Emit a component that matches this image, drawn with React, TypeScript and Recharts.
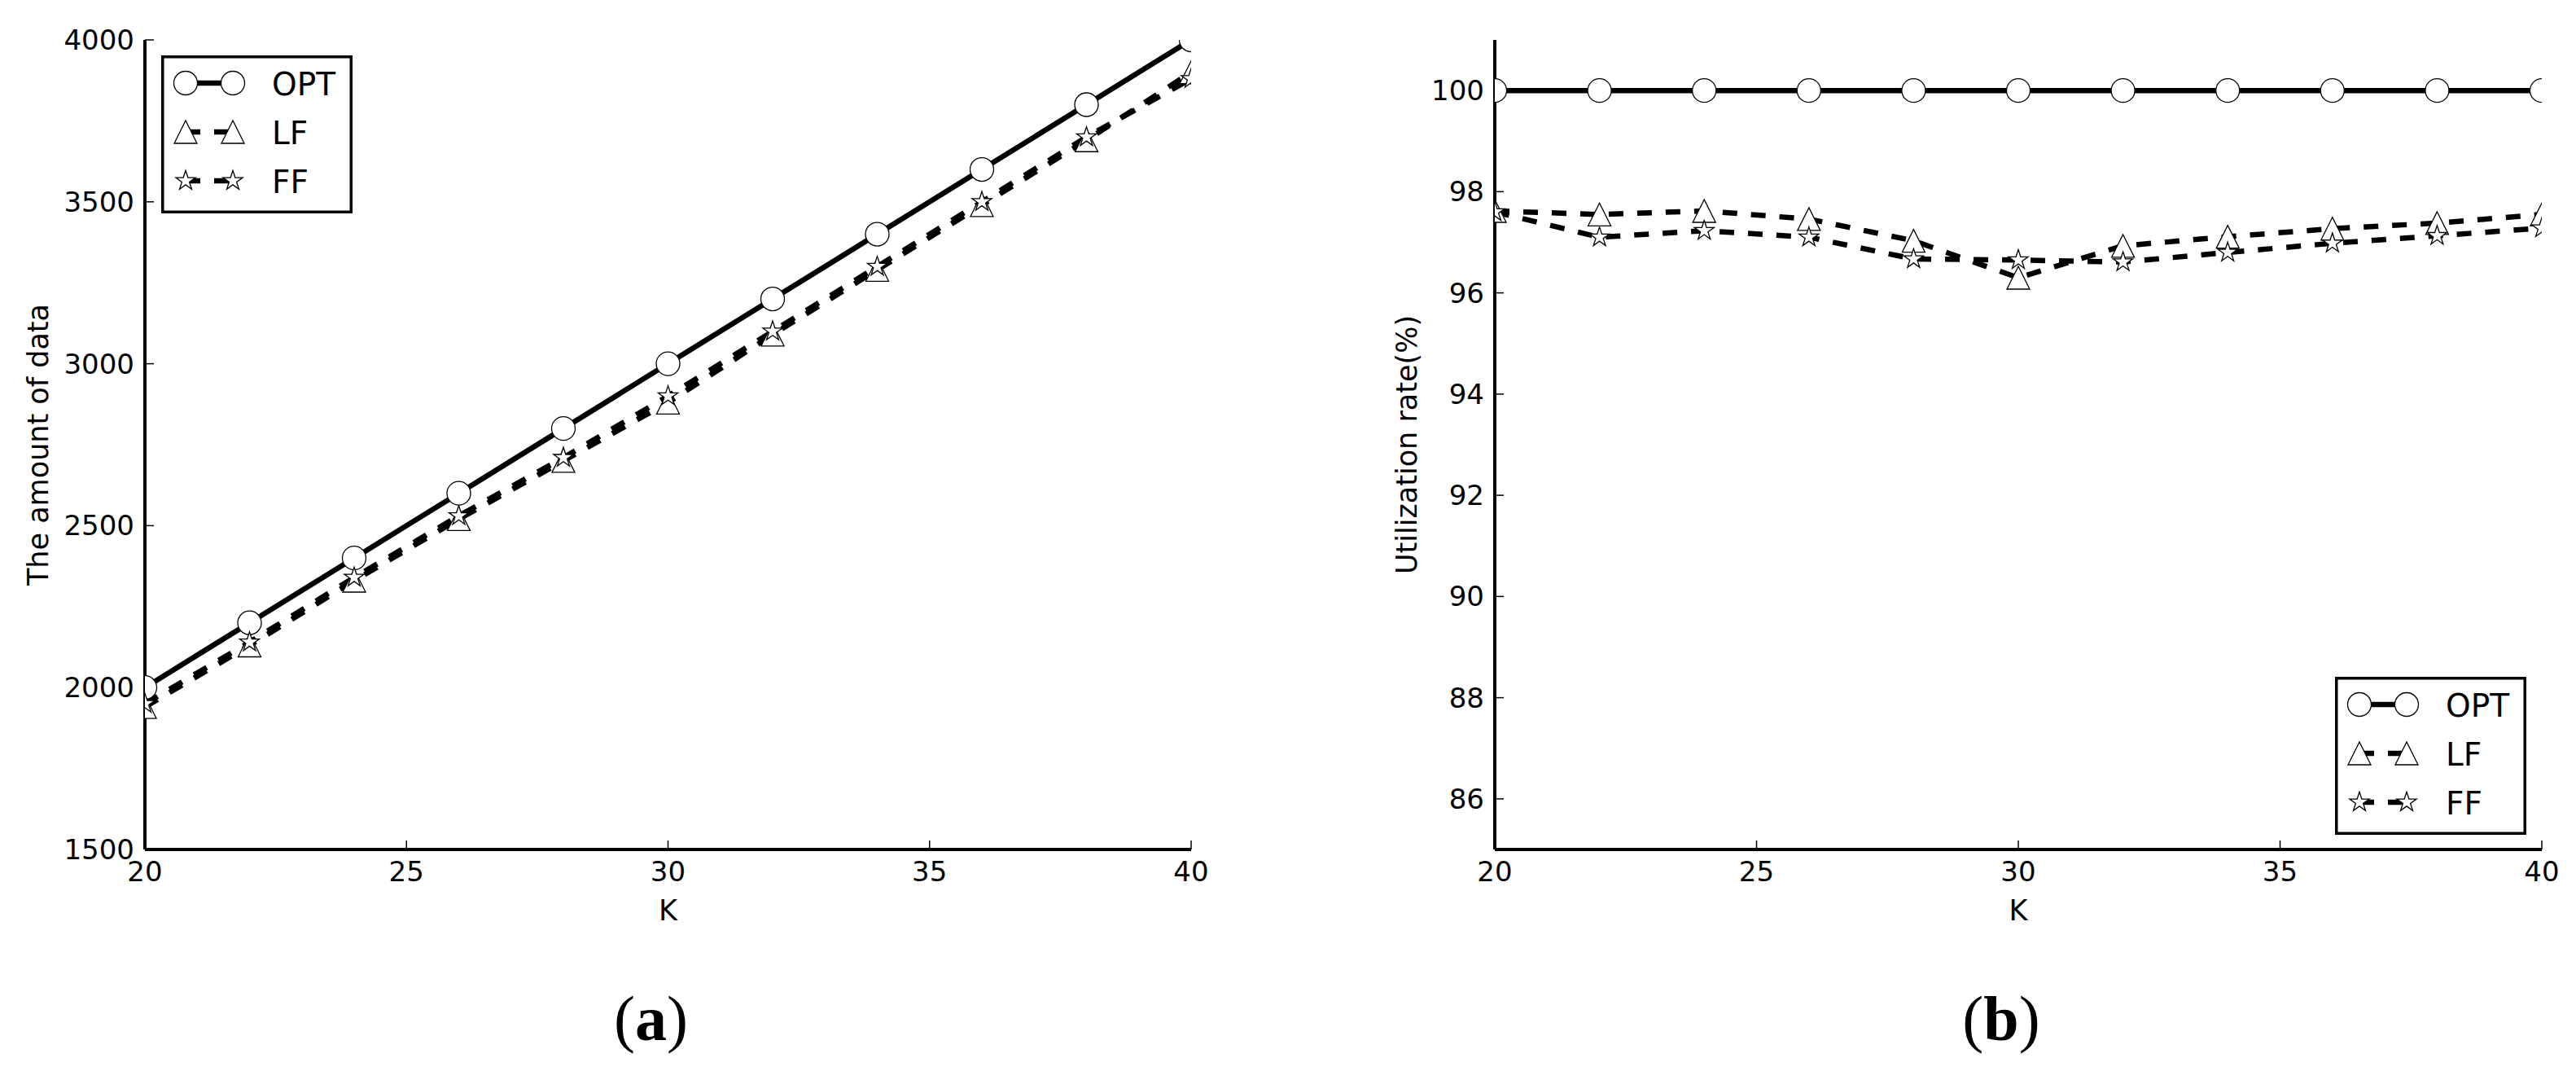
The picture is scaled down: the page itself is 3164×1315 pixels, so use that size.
import React from 'react';
import { LineChart, Line, XAxis, YAxis, Label, Legend } from 'recharts';

// ---------- data ----------
const kValues = [20, 22, 24, 26, 28, 30, 32, 34, 36, 38, 40];

const amountOPT = [2000, 2200, 2400, 2600, 2800, 3000, 3200, 3400, 3600, 3800, 4000];
const amountLF = [1940, 2130, 2330, 2520, 2700, 2880, 3090, 3290, 3490, 3690, 3900];
const amountFF = [1950, 2140, 2340, 2530, 2710, 2900, 3100, 3300, 3500, 3700, 3880];

const rateOPT = [100, 100, 100, 100, 100, 100, 100, 100, 100, 100, 100];
const rateLF = [97.62, 97.55, 97.62, 97.46, 97.03, 96.3, 96.93, 97.11, 97.27, 97.38, 97.55];
const rateFF = [97.6, 97.1, 97.23, 97.1, 96.67, 96.65, 96.61, 96.8, 96.98, 97.13, 97.28];

const seriesNames = ['OPT', 'LF', 'FF'];
const xTicks = [20, 25, 30, 35, 40];
const amountTicks = [1500, 2000, 2500, 3000, 3500, 4000];
const rateTicks = [86, 88, 90, 92, 94, 96, 98, 100];

const amountData = kValues.map((k, i) => ({ k, OPT: amountOPT[i], LF: amountLF[i], FF: amountFF[i] }));
const rateData = kValues.map((k, i) => ({ k, OPT: rateOPT[i], LF: rateLF[i], FF: rateFF[i] }));

// ---------- styling ----------
const FONT = 'DejaVu Sans';
const LINE_W = 6.5;
const DASH = '18 17';

function starPoints(cx: number, cy: number, R: number) {
  const r = R * 0.382;
  const pts: string[] = [];
  for (let i = 0; i < 10; i++) {
    const a = (-90 + i * 36) * Math.PI / 180;
    const rad = i % 2 === 0 ? R : r;
    pts.push(`${cx + rad * Math.cos(a)},${cy + rad * Math.sin(a)}`);
  }
  return pts.join(' ');
}

function Marker({ kind, cx, cy }: { kind: string; cx: number; cy: number }) {
  if (cx == null || cy == null || isNaN(cx) || isNaN(cy)) return null;
  if (kind === 'OPT') {
    return <circle cx={cx} cy={cy} r={14.5} fill="#fff" stroke="#000" strokeWidth={1.3} />;
  }
  if (kind === 'LF') {
    const h = 14;
    return (
      <polygon
        points={`${cx},${cy - h} ${cx - h},${cy + h} ${cx + h},${cy + h}`}
        fill="#fff"
        stroke="#000"
        strokeWidth={1.3}
      />
    );
  }
  return <polygon points={starPoints(cx, cy, 12.7)} fill="#fff" stroke="#000" strokeWidth={1.3} />;
}

const makeDot = (kind: string) => (props: any) => (
  <Marker key={`${kind}-${props.index}`} kind={kind} cx={props.cx} cy={props.cy} />
);

function LegendBox() {
  const W = 235;
  const H = 194;
  return (
    <svg width={W} height={H} style={{ display: 'block', overflow: 'visible' }}>
      <rect x={1.75} y={1.75} width={W - 3.5} height={H - 3.5} fill="#fff" stroke="#000" strokeWidth={3.5} />
      {seriesNames.map((name, i) => {
        const y = 34 + i * 60;
        return (
          <g key={name}>
            <line
              x1={30}
              y1={y}
              x2={88}
              y2={y}
              stroke="#000"
              strokeWidth={LINE_W}
              strokeDasharray={name === 'OPT' ? undefined : DASH}
            />
            <Marker kind={name} cx={30} cy={y} />
            <Marker kind={name} cx={88} cy={y} />
            <text x={136} y={y + 14.5} fontFamily={FONT} fontSize={39} fill="#000">
              {name}
            </text>
          </g>
        );
      })}
    </svg>
  );
}

interface PanelProps {
  data: any[];
  yDomain: [number, number];
  yTicks: number[];
  yTitle: string;
  yTitleOffset: number;
  caption: string;
  width: number;
  margin: { top: number; right: number; bottom: number; left: number };
  legendPos: { left: number; top: number };
}

const AXIS_STROKE = { stroke: '#000', strokeWidth: 4 };
const TICK_STROKE = { stroke: '#000', strokeWidth: 1.5 };
const TICK_FONT = { fontFamily: FONT, fontSize: 34, fill: '#000' };

function Panel(p: PanelProps) {
  return (
    <LineChart width={p.width} height={1315} data={p.data} margin={p.margin}>
      <XAxis
        dataKey="k"
        type="number"
        domain={[20, 40]}
        ticks={xTicks}
        interval={0}
        allowDataOverflow
        height={60}
        tickSize={-11}
        tickMargin={26}
        axisLine={AXIS_STROKE}
        tickLine={TICK_STROKE}
        tick={TICK_FONT}
      >
        <Label
          content={(lp: any) => {
            const vb = lp.viewBox;
            return (
              <text x={vb.x + vb.width / 2} y={vb.y + 87} textAnchor="middle" fontFamily={FONT} fontSize={35} fill="#000">
                K
              </text>
            );
          }}
        />
        <Label
          content={(lp: any) => {
            const vb = lp.viewBox;
            return (
              <text x={vb.x + vb.width / 2 - 21} y={vb.y + 234} textAnchor="middle" fontFamily="Liberation Serif" fontSize={78} fill="#000">
                <tspan>(</tspan>
                <tspan fontWeight="bold">{p.caption}</tspan>
                <tspan>)</tspan>
              </text>
            );
          }}
        />
      </XAxis>
      <XAxis
        xAxisId="top"
        dataKey="k"
        orientation="top"
        type="number"
        domain={[20, 40]}
        ticks={xTicks}
        interval={0}
        allowDataOverflow
        height={0}
        tickSize={-11}
        axisLine={AXIS_STROKE}
        tickLine={TICK_STROKE}
        tick={false}
      />
      <YAxis
        type="number"
        domain={p.yDomain}
        ticks={p.yTicks}
        interval={0}
        allowDataOverflow
        width={120}
        tickSize={-11}
        tickMargin={24}
        axisLine={AXIS_STROKE}
        tickLine={TICK_STROKE}
        tick={TICK_FONT}
      >
        <Label
          content={(lp: any) => {
            const vb = lp.viewBox;
            const x = vb.x + vb.width - p.yTitleOffset;
            const y = vb.y + vb.height / 2;
            return (
              <text x={x} y={y} transform={`rotate(-90 ${x} ${y})`} textAnchor="middle" fontFamily={FONT} fontSize={35} fill="#000">
                {p.yTitle}
              </text>
            );
          }}
        />
      </YAxis>
      <YAxis
        yAxisId="right"
        orientation="right"
        type="number"
        domain={p.yDomain}
        ticks={p.yTicks}
        interval={0}
        allowDataOverflow
        width={0}
        tickSize={-11}
        axisLine={AXIS_STROKE}
        tickLine={TICK_STROKE}
        tick={false}
      />
      <Line
        dataKey="OPT"
        name="OPT"
        stroke="#000"
        strokeWidth={LINE_W}
        dot={makeDot('OPT')}
        activeDot={false}
        isAnimationActive={false}
      />
      <Line
        dataKey="LF"
        name="LF"
        stroke="#000"
        strokeWidth={LINE_W}
        strokeDasharray={DASH}
        dot={makeDot('LF')}
        activeDot={false}
        isAnimationActive={false}
      />
      <Line
        dataKey="FF"
        name="FF"
        stroke="#000"
        strokeWidth={LINE_W}
        strokeDasharray={DASH}
        dot={makeDot('FF')}
        activeDot={false}
        isAnimationActive={false}
      />
      <Legend
        layout="vertical"
        verticalAlign="middle"
        align="center"
        content={() => <LegendBox />}
        wrapperStyle={{ left: p.legendPos.left, top: p.legendPos.top, width: 235, height: 194 }}
      />
    </LineChart>
  );
}

export default function App() {
  return (
    <div style={{ position: 'absolute', left: 0, top: 0, width: 3164, height: 1315, background: '#fff' }}>
      <div style={{ position: 'absolute', left: 0, top: 0 }}>
        <Panel
          data={amountData}
          yDomain={[1500, 4000]}
          yTicks={amountTicks}
          yTitle="The amount of data"
          yTitleOffset={119}
          caption="a"
          width={1500}
          margin={{ top: 49, right: 37, bottom: 212, left: 58 }}
          legendPos={{ left: 198, top: 68 }}
        />
      </div>
      <div style={{ position: 'absolute', left: 1600, top: 0 }}>
        <Panel
          data={rateData}
          yDomain={[85, 101]}
          yTicks={rateTicks}
          yTitle="Utilization rate(%)"
          yTitleOffset={96}
          caption="b"
          width={1564}
          margin={{ top: 49, right: 42, bottom: 212, left: 116 }}
          legendPos={{ left: 1268, top: 831 }}
        />
      </div>
    </div>
  );
}
